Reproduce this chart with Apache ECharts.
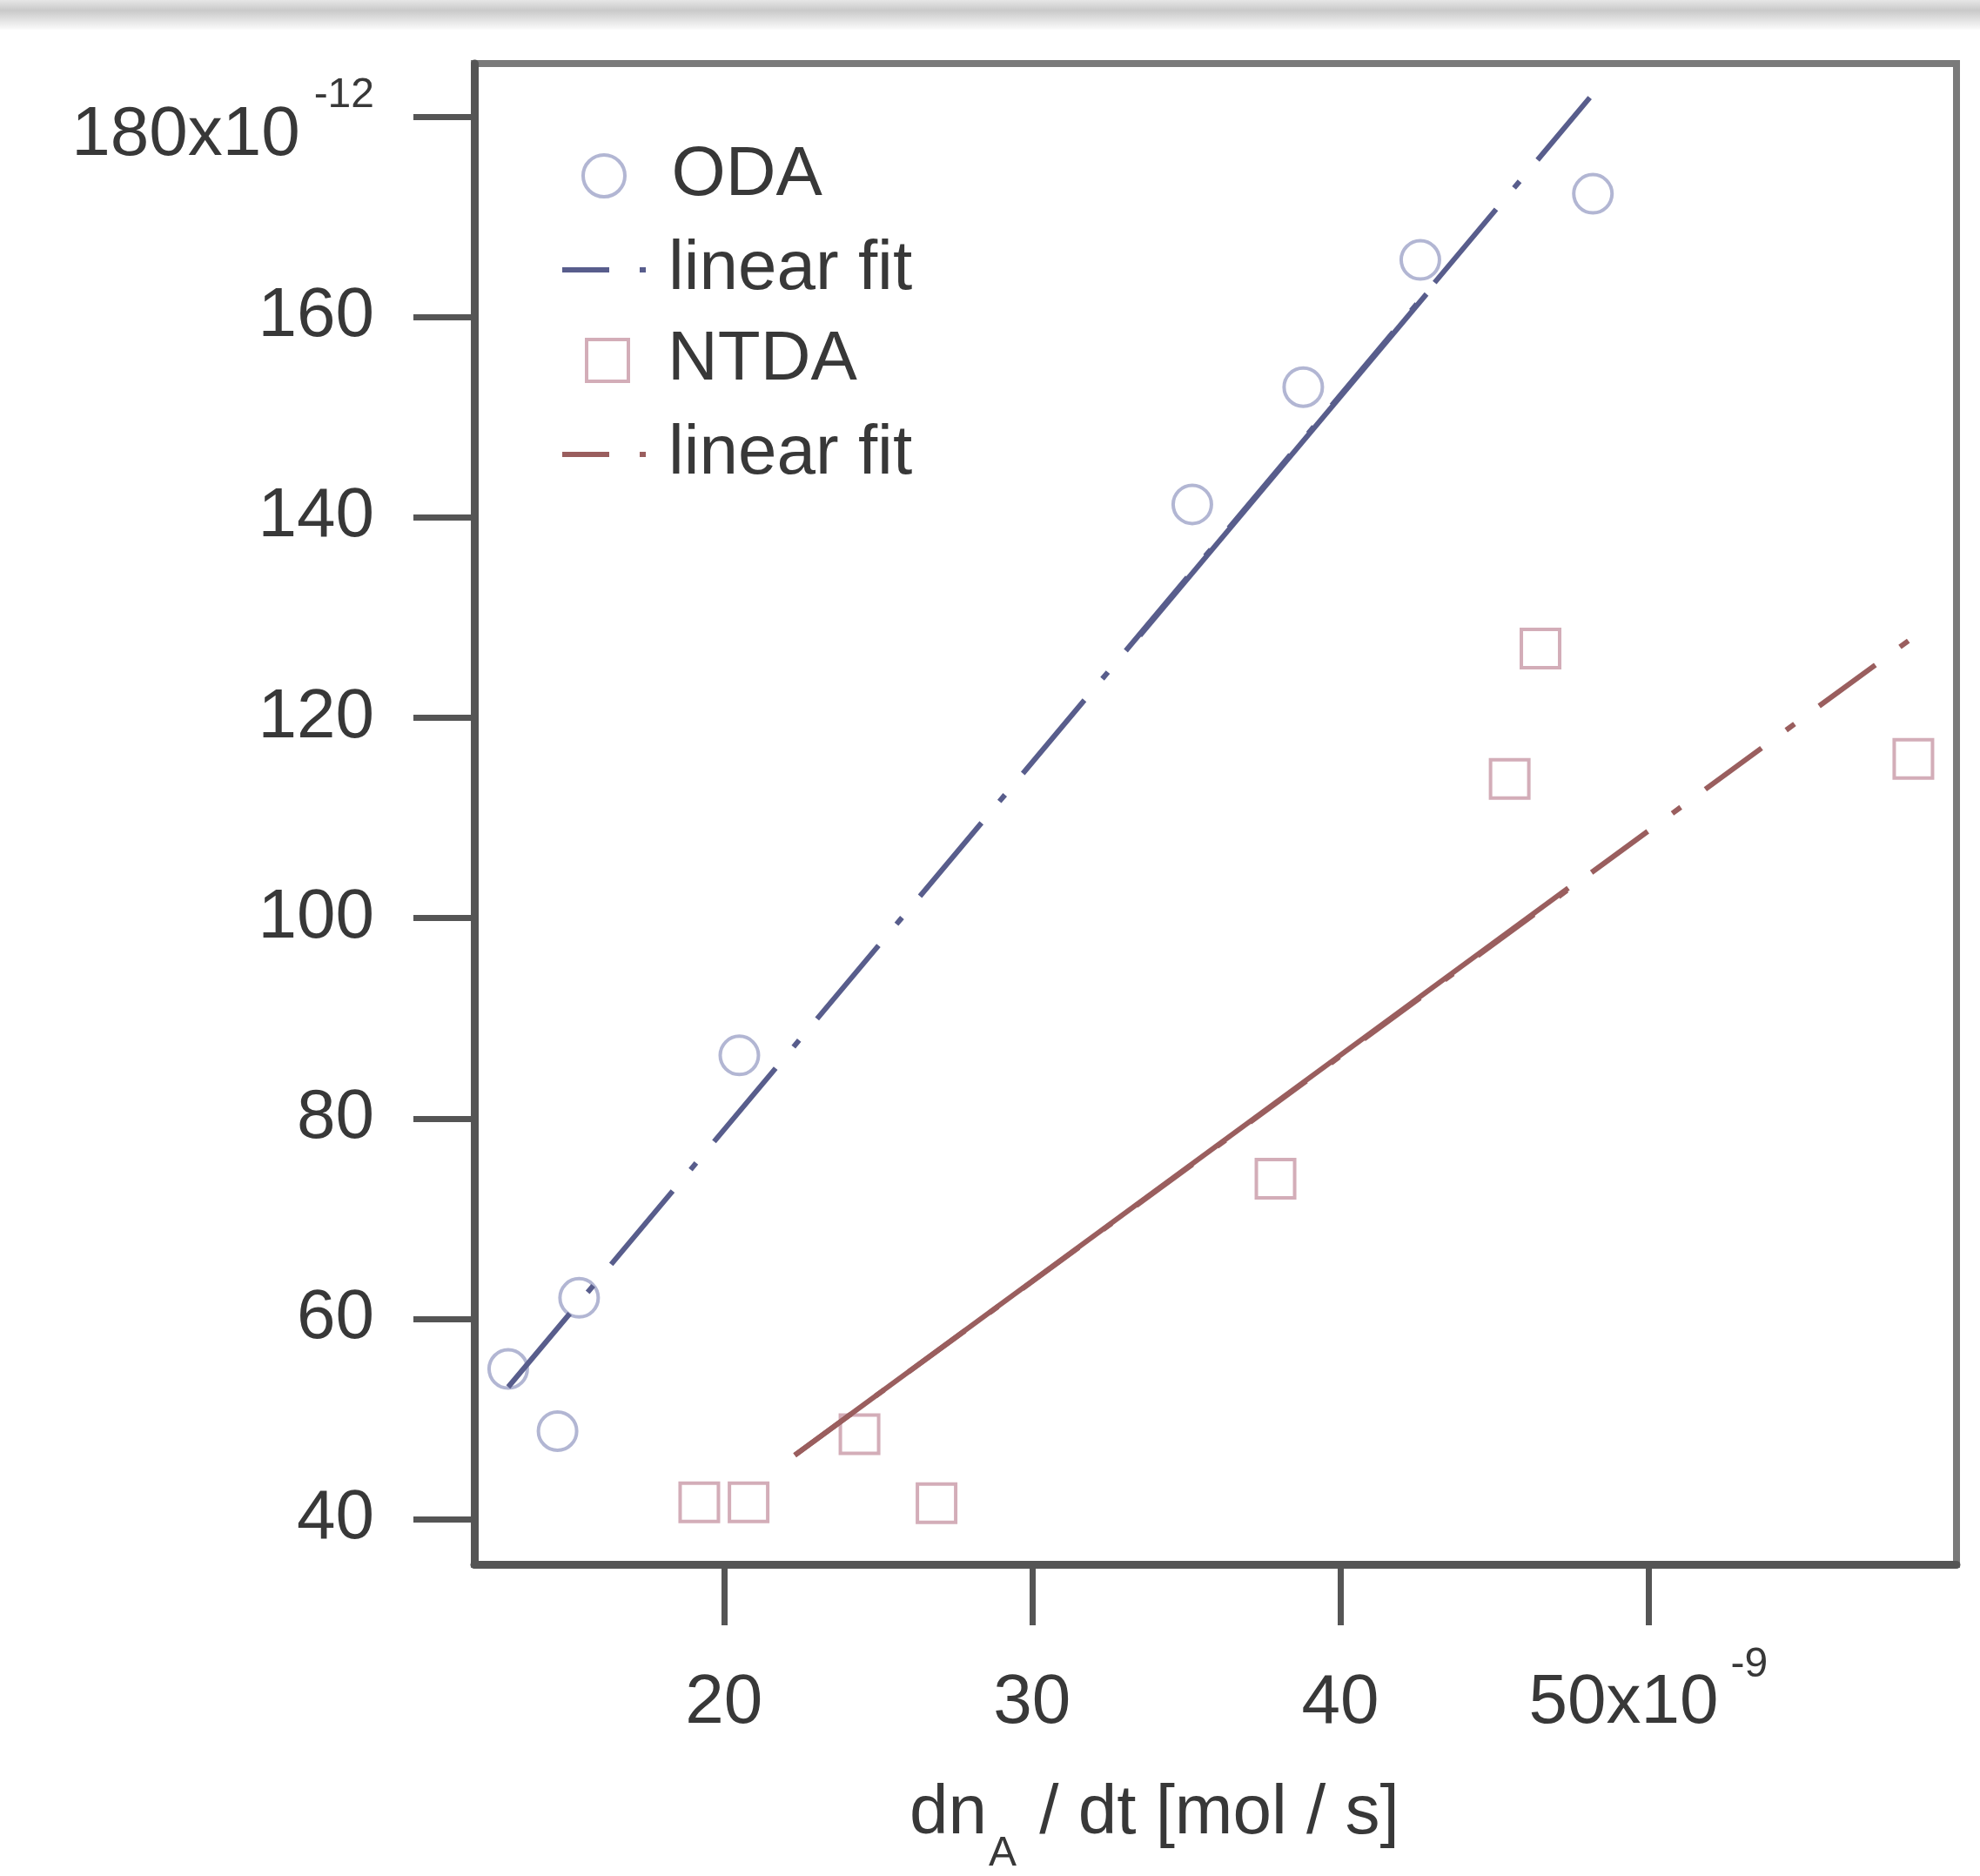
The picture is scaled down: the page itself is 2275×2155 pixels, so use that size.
<!DOCTYPE html>
<html><head><meta charset="utf-8">
<script src="https://cdn.jsdelivr.net/npm/echarts@6/dist/echarts.min.js"></script>
<style>html,body{margin:0;padding:0;background:#fff}#c{width:2275px;height:2155px}</style>
</head><body><div id="c"></div>
<script>
// ---- data ----
const odaX = [13.0, 14.6, 15.3, 20.5, 35.2, 38.8, 42.6, 48.2];
const odaY = [55.0, 48.8, 62.1, 86.3, 141.3, 153.0, 165.7, 172.3];
const ntdaX = [19.2, 20.8, 24.4, 26.9, 37.9, 45.5, 46.5, 58.6];
const ntdaY = [41.7, 41.7, 48.5, 41.6, 74.0, 113.9, 126.9, 115.9];
const odaFitX = [13.0, 48.1];
const odaFitY = [53.2, 181.9];
const odaSolidX = [33.5, 42.8];
const odaSolidY = [128.2, 162.3];
const ntdaFitX = [22.3, 58.8];
const ntdaFitY = [46.4, 128.5];
const ntdaSolidX = [22.3, 47.4];
const ntdaSolidY = [46.4, 103.0];
const xTicks = [20, 30, 40, 50];
const yTicks = [40, 60, 80, 100, 120, 140, 160, 180];

const FONT = 'Liberation Sans';
const FS = 80;
const TXT = '#383838';
const AX = '#555555';
const odaMark = '#9fa4c8', odaLine = '#585d8c';
const ntdaMark = '#c898a6', ntdaLine = '#9a5e5e';
const pairs = (xs, ys) => xs.map((x, i) => [x, ys[i]]);
const fitDash = [110, 32, 10, 32];
const legDash = [54, 35, 7, 100];

const chart = echarts.init(document.getElementById('c'));
const legendText = (pad) => ({fontSize: FS, fontFamily: FONT, color: TXT, lineHeight: 84, padding: [0, 0, 0, pad]});
const option = {
  backgroundColor: '#ffffff',
  animation: false,
  grid: {left: 545, right: 27, top: 73, bottom: 358, show: true, borderColor: '#7a7a7a', borderWidth: 8, backgroundColor: 'transparent'},
  xAxis: {
    type: 'value', min: 11.9, max: 60, splitLine: {show: false},
    axisLine: {show: true, onZero: false, lineStyle: {color: AX, width: 9}},
    axisTick: {show: true, customValues: xTicks, length: 70, lineStyle: {color: AX, width: 7}},
    axisLabel: {
      customValues: xTicks, margin: 92, fontSize: FS, fontFamily: FONT, color: TXT,
      formatter: v => v === 50 ? '{b|50x10}{s|-9}' : '{b|' + v + '}',
      rich: {
        b: {fontSize: FS, lineHeight: 136, fontFamily: FONT, color: TXT},
        s: {fontSize: 48, lineHeight: 48, fontFamily: FONT, color: TXT, verticalAlign: 'top', padding: [0, 0, 0, 14]}
      }
    }
  },
  yAxis: {
    type: 'value', min: 35.5, max: 185.3, splitLine: {show: false},
    axisLine: {show: true, onZero: false, lineStyle: {color: AX, width: 9}},
    axisTick: {show: true, customValues: yTicks, length: 70, lineStyle: {color: AX, width: 7}},
    axisLabel: {
      customValues: yTicks, margin: 115, fontSize: FS, fontFamily: FONT, color: TXT,
      formatter: v => v === 180 ? '{b|180x10}{s|-12}' : String(v),
      rich: {
        b: {fontSize: FS, lineHeight: 124, fontFamily: FONT, color: TXT, verticalAlign: 'bottom'},
        s: {fontSize: 48, lineHeight: 48, fontFamily: FONT, color: TXT, verticalAlign: 'top', padding: [14, 0, 0, 16]}
      }
    }
  },
  legend: [
    {data: [{name: 'ODA', icon: 'circle', itemStyle: {color: 'rgba(255,255,255,0)', borderColor: odaMark, borderWidth: 4}}],
     left: 663, top: 155, itemWidth: 105, itemHeight: 48, textStyle: legendText(20), selectedMode: false},
    {data: [{name: 'ODA fit', itemStyle: {opacity: 0}, lineStyle: {color: odaLine, width: 6, type: legDash}}],
     left: 638, top: 263, itemWidth: 105, itemHeight: 48, textStyle: legendText(12), selectedMode: false,
     formatter: () => 'linear fit'},
    {data: [{name: 'NTDA', icon: 'rect', itemStyle: {color: 'rgba(255,255,255,0)', borderColor: ntdaMark, borderWidth: 4}}],
     left: 667, top: 367, itemWidth: 48, itemHeight: 48, textStyle: legendText(40), selectedMode: false},
    {data: [{name: 'NTDA fit', itemStyle: {opacity: 0}, lineStyle: {color: ntdaLine, width: 6, type: legDash}}],
     left: 638, top: 475, itemWidth: 105, itemHeight: 48, textStyle: legendText(12), selectedMode: false,
     formatter: () => 'linear fit'}
  ],
  graphic: [
    {type: 'rect', left: 0, top: 0, shape: {width: 2275, height: 34}, silent: true,
     style: {fill: new echarts.graphic.LinearGradient(0, 0, 0, 1, [
       {offset: 0, color: '#e6e6e6'}, {offset: 0.35, color: '#c9c9c9'}, {offset: 1, color: '#fbfbfb'}])}},
    {type: 'text', left: 1045, top: 2044, silent: true,
     style: {text: '{a|dn}{sub|A}{a| / dt [mol / s]}{sp| }', rich: {
       a: {fontSize: FS, fontFamily: FONT, fill: TXT, verticalAlign: 'top', lineHeight: 90},
       sub: {fontSize: 48, fontFamily: FONT, fill: TXT, verticalAlign: 'bottom', lineHeight: 48, padding: [0, 4, 0, 2]},
       sp: {fontSize: 10, lineHeight: 110}
     }}}
  ],
  series: [
    {name: 'ODA', type: 'scatter', data: pairs(odaX, odaY), symbol: 'circle', symbolSize: 44,
     itemStyle: {color: 'rgba(255,255,255,0)', borderColor: odaMark, borderWidth: 4}, z: 2},
    {name: 'NTDA', type: 'scatter', data: pairs(ntdaX, ntdaY), symbol: 'rect', symbolSize: 44,
     itemStyle: {color: 'rgba(255,255,255,0)', borderColor: ntdaMark, borderWidth: 4}, z: 2},
    {name: 'ODA fit', type: 'line', data: pairs(odaFitX, odaFitY), symbol: 'none',
     lineStyle: {color: odaLine, width: 6, type: fitDash}, z: 3},
    {name: 'oda-solid', type: 'line', data: pairs(odaSolidX, odaSolidY), symbol: 'none',
     lineStyle: {color: odaLine, width: 6}, z: 3},
    {name: 'NTDA fit', type: 'line', data: pairs(ntdaFitX, ntdaFitY), symbol: 'none',
     lineStyle: {color: ntdaLine, width: 6, type: [80, 35, 12, 35]}, z: 3},
    {name: 'ntda-solid', type: 'line', data: pairs(ntdaSolidX, ntdaSolidY), symbol: 'none',
     lineStyle: {color: ntdaLine, width: 6}, z: 3}
  ]
};
chart.setOption(option);
</script>
</body></html>
